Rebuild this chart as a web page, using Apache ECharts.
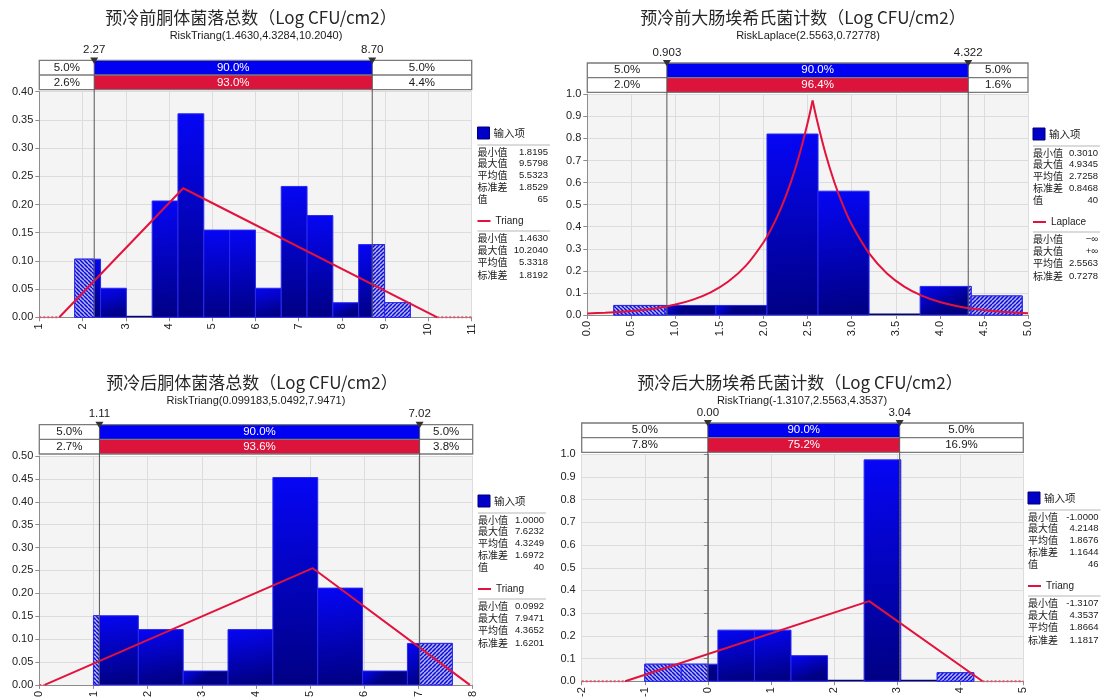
<!DOCTYPE html>
<html><head><meta charset="utf-8">
<script src="https://cdn.jsdelivr.net/npm/echarts@6/dist/echarts.min.js"></script>
<style>html,body{margin:0;padding:0;background:#fff}#c{width:1101px;height:700px}</style>
</head><body><div id="c"></div>
<script>
// ---------- texts ----------
const titles = ['预冷前胴体菌落总数（Log CFU/cm2）', '预冷前大肠埃希氏菌计数（Log CFU/cm2）', '预冷后胴体菌落总数（Log CFU/cm2）', '预冷后大肠埃希氏菌计数（Log CFU/cm2）'];
const subtitles = ['RiskTriang(1.4630,4.3284,10.2040)', 'RiskLaplace(2.5563,0.72778)', 'RiskTriang(0.099183,5.0492,7.9471)', 'RiskTriang(-1.3107,2.5563,4.3537)'];

// ---------- histograms: data range and density of each bin ----------
const hist1Range = [1.8195, 9.5798];
const hist1Density = [0.1031, 0.0515, 0, 0.2062, 0.3608, 0.1546, 0.1546, 0.0515, 0.2320, 0.1804, 0.0258, 0.1289, 0.0258];
const hist2Range = [0.3010, 4.9345];
const hist2Density = [0.0432, 0.0432, 0.0432, 0.8201, 0.5611, 0, 0.1295, 0.0863];
const hist3Range = [1.0000, 7.6232];
const hist3Density = [0.1510, 0.1208, 0.0302, 0.1208, 0.4530, 0.2114, 0.0302, 0.0906];
const hist4Range = [-1.0000, 4.2148];
const hist4Density = [0.0750, 0.0750, 0.2251, 0.2251, 0.1126, 0, 0.9755, 0, 0.0375];

// ---------- delimiters (5% / 95%) and band percentages ----------
const delim1 = [2.27, 8.70], delimLabel1 = ['2.27', '8.70'];
const delim2 = [0.903, 4.322], delimLabel2 = ['0.903', '4.322'];
const delim3 = [1.11, 7.02], delimLabel3 = ['1.11', '7.02'];
const delim4 = [0.00, 3.04], delimLabel4 = ['0.00', '3.04'];
const bandInput1 = ['5.0%', '90.0%', '5.0%'], bandFit1 = ['2.6%', '93.0%', '4.4%'];
const bandInput2 = ['5.0%', '90.0%', '5.0%'], bandFit2 = ['2.0%', '96.4%', '1.6%'];
const bandInput3 = ['5.0%', '90.0%', '5.0%'], bandFit3 = ['2.7%', '93.6%', '3.8%'];
const bandInput4 = ['5.0%', '90.0%', '5.0%'], bandFit4 = ['7.8%', '75.2%', '16.9%'];

// ---------- fitted curves ----------
const fit1Line = [[1.4630, 0], [4.3284, 0.2288], [10.2040, 0]];
const fit1Zero = [[[1, 0], [1.4630, 0]], [[10.2040, 0], [11, 0]]];
const fit3Line = [[0.0992, 0], [5.0492, 0.2549], [7.9471, 0]];
const fit3Zero = [[[0, 0], [0.0992, 0]]];
const fit4Line = [[-1.3107, 0], [2.5563, 0.3531], [4.3537, 0]];
const fit4Zero = [[[-2, 0], [-1.3107, 0]], [[4.3537, 0], [5, 0]]];
const lapLeftX = [0.0, 0.2, 0.4, 0.6, 0.8, 1.0, 1.2, 1.4, 1.6, 1.8, 2.0, 2.1, 2.2, 2.3, 2.4, 2.5, 2.5563];
const lapLeftY = [0.0068, 0.0100, 0.0147, 0.0217, 0.0320, 0.0472, 0.0697, 0.1027, 0.1515, 0.2235, 0.3296, 0.4003, 0.4862, 0.5904, 0.7171, 0.8709, 0.9716];
const lapRightX = [2.5563, 2.6, 2.7, 2.8, 2.9, 3.0, 3.2, 3.4, 3.6, 3.8, 4.0, 4.2, 4.4, 4.6, 4.8, 5.0];
const lapRightY = [0.9716, 0.8925, 0.7349, 0.6051, 0.4982, 0.4102, 0.2781, 0.1885, 0.1278, 0.0867, 0.0587, 0.0398, 0.0270, 0.0183, 0.0124, 0.0084];

// ---------- axes ----------
const xRange1 = [1, 11, 1], xRange2 = [0, 5, 0.5], xRange3 = [0, 8, 1], xRange4 = [-2, 5, 1];
const yRange1 = [0, 0.40, 0.05], yRange2 = [0, 1.0, 0.1], yRange3 = [0, 0.50, 0.05], yRange4 = [0, 1.0, 0.1];
const xDecimals = [0, 1, 0, 0], yDecimals = [2, 1, 2, 1];

// ---------- legend statistics ----------
const legendInputName = '输入项';
const inputLabels = ['最小值', '最大值', '平均值', '标准差', '值'];
const fitLabels = ['最小值', '最大值', '平均值', '标准差'];
const fitNames = ['Triang', 'Laplace', 'Triang', 'Triang'];
const inputStats1 = ['1.8195', '9.5798', '5.5323', '1.8529', '65'];
const fitStats1 = ['1.4630', '10.2040', '5.3318', '1.8192'];
const inputStats2 = ['0.3010', '4.9345', '2.7258', '0.8468', '40'];
const fitStats2 = ['−∞', '+∞', '2.5563', '0.7278'];
const inputStats3 = ['1.0000', '7.6232', '4.3249', '1.6972', '40'];
const fitStats3 = ['0.0992', '7.9471', '4.3652', '1.6201'];
const inputStats4 = ['-1.0000', '4.2148', '1.8676', '1.1644', '46'];
const fitStats4 = ['-1.3107', '4.3537', '1.8664', '1.1817'];

// ================= layout & styling =================
const FNUM = '"Liberation Sans", Arial, sans-serif';
const FCJK = '"Noto Sans CJK SC", "Noto Sans", sans-serif';
const RED = '#e3123c';
const grids = [
  {left: 39.3, top: 91.7, width: 432.4, height: 225.6},
  {left: 587.3, top: 94.3, width: 440.7, height: 220.7},
  {left: 39.3, top: 456, width: 433.4, height: 230},
  {left: 581.7, top: 454.3, width: 441.6, height: 228.7}
];
const titlePos = [[251, 18], [803, 18], [252, 383], [800, 383]];
const subPos = [[256, 36], [808, 36], [256, 401], [802, 401]];
const legendPos = [{L: 477.5, R: 548, T: 127}, {L: 1033, R: 1098, T: 128}, {L: 478, R: 544, T: 495}, {L: 1028, R: 1098.5, T: 492}];

const histRanges = [hist1Range, hist2Range, hist3Range, hist4Range];
const histDens = [hist1Density, hist2Density, hist3Density, hist4Density];
const delims = [delim1, delim2, delim3, delim4];
const delimLabels = [delimLabel1, delimLabel2, delimLabel3, delimLabel4];
const bandInputs = [bandInput1, bandInput2, bandInput3, bandInput4];
const bandFits = [bandFit1, bandFit2, bandFit3, bandFit4];
const xRanges = [xRange1, xRange2, xRange3, xRange4];
const yRanges = [yRange1, yRange2, yRange3, yRange4];
const inputStats = [inputStats1, inputStats2, inputStats3, inputStats4];
const fitStats = [fitStats1, fitStats2, fitStats3, fitStats4];

function makeHatch(dir) {
  const s = 4, c = document.createElement('canvas');
  c.width = s; c.height = s;
  const g = c.getContext('2d');
  g.fillStyle = '#b4b4f6'; g.fillRect(0, 0, s, s);
  g.strokeStyle = '#0c0cd0'; g.lineWidth = 1.5;
  g.beginPath();
  for (let k = -1; k <= 1; k++) {
    if (dir === 'back') { g.moveTo(0, k * s); g.lineTo(s, s + k * s); }
    else { g.moveTo(0, s + k * s); g.lineTo(s, k * s); }
  }
  g.stroke();
  return c;
}
const hatchBack = makeHatch('back');
const hatchFwd = makeHatch('fwd');
const barFill = {type: 'linear', x: 0, y: 0, x2: 0.25, y2: 1, colorStops: [
  {offset: 0, color: '#0606f6'}, {offset: 1, color: '#000084'}]};

function histSeries(k) {
  const r = histRanges[k], d = histDens[k], n = d.length, w = (r[1] - r[0]) / n;
  const data = d.map((v, i) => [r[0] + i * w, r[0] + (i + 1) * w, v]);
  const lo = delims[k][0], hi = delims[k][1];
  return {
    type: 'custom', xAxisIndex: k, yAxisIndex: k, data: data, encode: {x: [0, 1], y: 2}, z: 2, silent: true,
    renderItem: function (params, api) {
      const x0 = api.value(0), x1 = api.value(1), h = api.value(2);
      const pa = api.coord([x0, h]), pb = api.coord([x1, 0]);
      const ch = [];
      if (h <= 0) {
        ch.push({type: 'rect', shape: {x: pa[0], y: pb[1] - 1.5, width: pb[0] - pa[0], height: 1.5}, style: {fill: '#00008a'}});
        return {type: 'group', children: ch};
      }
      ch.push({type: 'rect', shape: {x: pa[0], y: pa[1], width: pb[0] - pa[0], height: pb[1] - pa[1]},
        style: {fill: barFill, stroke: '#2a2af0', lineWidth: 1}});
      if (x0 < lo) {
        const pe = api.coord([Math.min(x1, lo), 0]);
        ch.push({type: 'rect', shape: {x: pa[0], y: pa[1], width: pe[0] - pa[0], height: pb[1] - pa[1]},
          style: {fill: {image: hatchBack, repeat: 'repeat'}, stroke: '#2a2af0', lineWidth: 1}});
      }
      if (x1 > hi) {
        const ps = api.coord([Math.max(x0, hi), 0]);
        ch.push({type: 'rect', shape: {x: ps[0], y: pa[1], width: pb[0] - ps[0], height: pb[1] - pa[1]},
          style: {fill: {image: hatchFwd, repeat: 'repeat'}, stroke: '#2a2af0', lineWidth: 1}});
      }
      return {type: 'group', children: ch};
    }
  };
}

function txt(text, x, y, font, fill, align, valign) {
  return {type: 'text', style: {text: text, x: x, y: y, font: font, fill: fill,
    align: align || 'center', verticalAlign: valign || 'middle', textAlign: align || 'center', textVerticalAlign: valign || 'middle'}};
}

function bandSeries(k) {
  const xr = xRanges[k], yr = yRanges[k];
  return {
    type: 'custom', xAxisIndex: k, yAxisIndex: k, data: [[delims[k][0], delims[k][1], 0]], encode: {x: [0, 1], y: 2},
    z: 5, clip: false, silent: true,
    renderItem: function (params, api) {
      const tl = api.coord([xr[0], yr[1]]), br = api.coord([xr[1], yr[0]]);
      const L = tl[0], R = br[0], top = tl[1], bottom = br[1];
      const xl = api.coord([api.value(0), 0])[0], xh = api.coord([api.value(1), 0])[0];
      const r1 = top - 31.3, r2 = top - 16.7, r3 = top - 2;
      const f = '11.5px ' + FNUM, ink = '#1a1a1a';
      const ch = [];
      ch.push({type: 'rect', shape: {x: L, y: r1, width: R - L, height: r3 - r1}, style: {fill: '#fff', stroke: null}});
      ch.push({type: 'rect', shape: {x: xl, y: r1, width: xh - xl, height: r2 - r1}, style: {fill: '#0000f2'}});
      ch.push({type: 'rect', shape: {x: xl, y: r2, width: xh - xl, height: r3 - r2}, style: {fill: '#dc143c'}});
      ch.push({type: 'rect', shape: {x: L, y: r1, width: R - L, height: r3 - r1}, style: {fill: null, stroke: '#7a7a7a', lineWidth: 1.3}});
      ch.push({type: 'line', shape: {x1: L, y1: r2, x2: R, y2: r2}, style: {stroke: '#7a7a7a', lineWidth: 1.3}});
      [xl, xh].forEach(function (x) {
        ch.push({type: 'line', shape: {x1: x, y1: r1, x2: x, y2: bottom}, style: {stroke: '#555', lineWidth: 1}});
      });
      const bi = bandInputs[k], bf = bandFits[k];
      ch.push(txt(bi[0], (L + xl) / 2, (r1 + r2) / 2, f, ink));
      ch.push(txt(bi[1], (xl + xh) / 2, (r1 + r2) / 2, f, '#fff'));
      ch.push(txt(bi[2], (xh + R) / 2, (r1 + r2) / 2, f, ink));
      ch.push(txt(bf[0], (L + xl) / 2, (r2 + r3) / 2, f, ink));
      ch.push(txt(bf[1], (xl + xh) / 2, (r2 + r3) / 2, f, '#fff'));
      ch.push(txt(bf[2], (xh + R) / 2, (r2 + r3) / 2, f, ink));
      [xl, xh].forEach(function (x, i) {
        ch.push({type: 'polygon', shape: {points: [[x - 4, r1 - 3], [x + 4, r1 - 3], [x, r1 + 3.5]]}, style: {fill: '#333'}});
        ch.push(txt(delimLabels[k][i], x, r1 - 10.5, '11.5px ' + FNUM, ink));
      });
      return {type: 'group', children: ch};
    }
  };
}

function lineS(k, data, dotted) {
  return {type: 'line', xAxisIndex: k, yAxisIndex: k, data: data, symbol: 'none', z: 4, silent: true,
    smooth: false, clip: false,
    lineStyle: dotted ? {color: '#e8506e', width: 2, type: [2, 2]} : {color: RED, width: 2}};
}

const series = [];
for (let k = 0; k < 4; k++) { series.push(histSeries(k)); series.push(bandSeries(k)); }
series.push(lineS(0, fit1Line, false));
fit1Zero.forEach(z => series.push(lineS(0, z, true)));
series.push(Object.assign(lineS(1, lapLeftX.map((x, i) => [x, lapLeftY[i]]), false), {smooth: 0.3}));
series.push(Object.assign(lineS(1, lapRightX.map((x, i) => [x, lapRightY[i]]), false), {smooth: 0.3}));
series.push(lineS(2, fit3Line, false));
fit3Zero.forEach(z => series.push(lineS(2, z, true)));
series.push(lineS(3, fit4Line, false));
fit4Zero.forEach(z => series.push(lineS(3, z, true)));

const graphics = [];
for (let k = 0; k < 4; k++) {
  graphics.push(txt(titles[k], titlePos[k][0], titlePos[k][1], '17px ' + FCJK, '#262626'));
  graphics.push(txt(subtitles[k], subPos[k][0], subPos[k][1], '11px ' + FNUM, '#1a1a1a'));
  const lp = legendPos[k], L = lp.L, R = lp.R, T = lp.T;
  graphics.push({type: 'rect', shape: {x: L, y: T, width: 12, height: 12}, style: {fill: '#0000c8', stroke: '#00007a', lineWidth: 1}});
  graphics.push(txt(legendInputName, L + 16, T + 6.5, '10.5px ' + FCJK, '#1a1a1a', 'left'));
  graphics.push({type: 'line', shape: {x1: L, y1: T + 18, x2: R + 2, y2: T + 18}, style: {stroke: '#cfcfcf', lineWidth: 1.5}});
  const rowsA = [25, 36.5, 48.5, 60.5, 72.5];
  inputLabels.forEach((lab, i) => {
    graphics.push(txt(lab, L, T + rowsA[i], '10px ' + FCJK, '#1a1a1a', 'left'));
    graphics.push(txt(inputStats[k][i], R, T + rowsA[i], '9.5px ' + FNUM, '#1a1a1a', 'right'));
  });
  graphics.push({type: 'line', shape: {x1: L, y1: T + 94, x2: L + 13, y2: T + 94}, style: {stroke: RED, lineWidth: 2}});
  graphics.push(txt(fitNames[k], L + 18, T + 94, '10px ' + FNUM, '#1a1a1a', 'left'));
  graphics.push({type: 'line', shape: {x1: L, y1: T + 104, x2: R + 2, y2: T + 104}, style: {stroke: '#cfcfcf', lineWidth: 1.5}});
  const rowsB = [111, 123, 135.5, 148];
  fitLabels.forEach((lab, i) => {
    graphics.push(txt(lab, L, T + rowsB[i], '10px ' + FCJK, '#1a1a1a', 'left'));
    graphics.push(txt(fitStats[k][i], R, T + rowsB[i], '9.5px ' + FNUM, '#1a1a1a', 'right'));
  });
}

const option = {
  animation: false,
  backgroundColor: '#ffffff',
  grid: grids.map(g => ({left: g.left, top: g.top, width: g.width, height: g.height, show: true,
    backgroundColor: '#f4f4f4', borderWidth: 0})),
  xAxis: xRanges.map((r, k) => ({
    type: 'value', gridIndex: k, min: r[0], max: r[1], interval: r[2],
    axisLine: {show: true, onZero: false, lineStyle: {color: '#8c8c8c'}},
    axisTick: {show: true, length: 4, lineStyle: {color: '#8c8c8c'}},
    axisLabel: {rotate: 90, fontSize: 11, color: '#222', fontFamily: FNUM, margin: 6,
      formatter: v => Number(v).toFixed(xDecimals[k])},
    splitLine: {show: true, lineStyle: {color: '#dcdcdc', width: 1}}
  })),
  yAxis: yRanges.map((r, k) => ({
    type: 'value', gridIndex: k, min: r[0], max: r[1], interval: r[2],
    axisLine: {show: true, lineStyle: {color: '#8c8c8c'}},
    axisTick: {show: true, length: 4, lineStyle: {color: '#8c8c8c'}},
    axisLabel: {fontSize: 11, color: '#222', fontFamily: FNUM, margin: 6,
      formatter: v => Number(v).toFixed(yDecimals[k])},
    splitLine: {show: true, lineStyle: {color: '#dcdcdc', width: 1}}
  })),
  series: series,
  graphic: {elements: graphics}
};
const chart = echarts.init(document.getElementById('c'), null, {renderer: 'canvas', width: 1101, height: 700});
chart.setOption(option);
</script>
</body></html>
